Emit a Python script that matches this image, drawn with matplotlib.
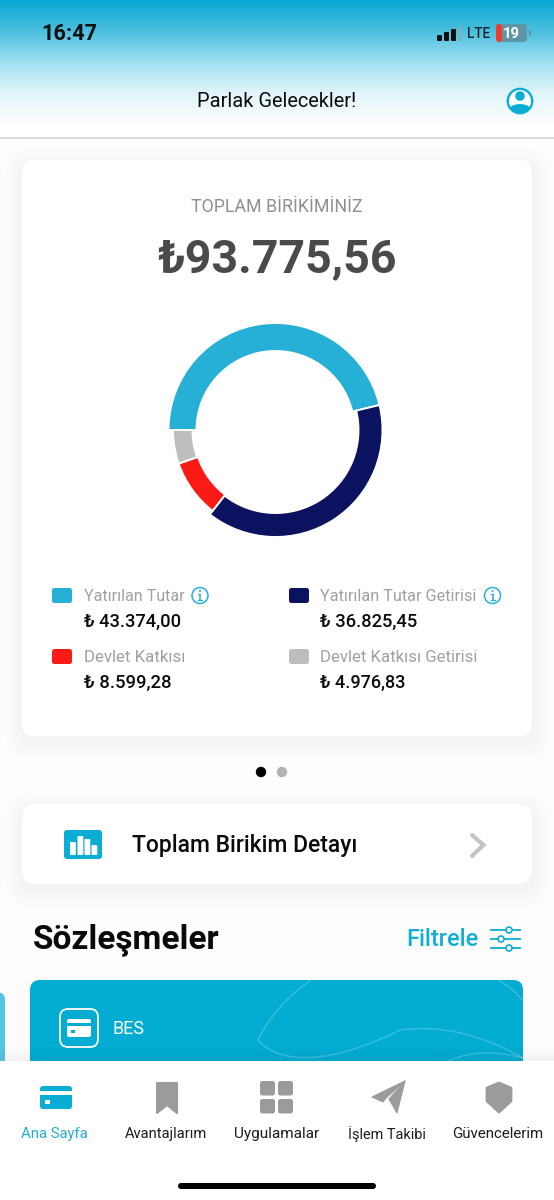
import numpy as np
import matplotlib
matplotlib.use("Agg")
import matplotlib.pyplot as plt
from matplotlib.patches import FancyBboxPatch, Circle, Polygon, PathPatch, Rectangle, Ellipse
from matplotlib.path import Path
from matplotlib.colors import LinearSegmentedColormap

plt.rcParams['font.family'] = ['Roboto', 'DejaVu Sans']

# data
categories = ["Yatırılan Tutar", "Yatırılan Tutar Getirisi", "Devlet Katkısı", "Devlet Katkısı Getirisi"]
values = [43374.00, 36825.45, 8599.28, 4976.83]
value_labels = ["₺ 43.374,00", "₺ 36.825,45", "₺ 8.599,28", "₺ 4.976,83"]
colors = ["#26b0d6", "#0b1260", "#fb1a16", "#bdbdbd"]
total_label = "₺93.775,56"
title_label = "TOPLAM BİRİKİMİNİZ"
tab_labels = ["Ana Sayfa", "Avantajlarım", "Uygulamalar", "İşlem Takibi", "Güvencelerim"]

W, H = 554, 1200
TEAL = "#0aaed4"
fig = plt.figure(figsize=(W / 100, H / 100), dpi=100, facecolor="#fdfdfd")
ax = fig.add_axes([0, 0, 1, 1])
ax.set_axis_off()

# header gradient
cmap = LinearSegmentedColormap.from_list("hdr", [(0, "#08a8d2"), (0.25, "#4cbfe0"), (0.5, "#a2e0f1"), (0.75, "#e2f5fa"), (1, "#ffffff")])
ax.imshow(np.linspace(0, 1, 256)[:, None], extent=[0, W, 125, 0], cmap=cmap, aspect="auto", zorder=0)
ax.add_patch(Rectangle((0, 125), W, 12, fc="white", ec="none", zorder=0))
ax.set_xlim(0, W)
ax.set_ylim(H, 0)
ax.plot([0, W], [137.5, 137.5], color="#d2d2d2", lw=1.1, zorder=1)


def box(x0, y0, x1, y1, r, fc, z=2, **kw):
    p = FancyBboxPatch((x0, y0), x1 - x0, y1 - y0, boxstyle=f"round,pad=0,rounding_size={r}", fc=fc, ec=kw.pop("ec", "none"), zorder=z, **kw)
    ax.add_patch(p)
    return p


def shadow(x0, y0, x1, y1, r, dy=6):
    for g in range(18, 0, -2):
        box(x0 - g, y0 - g + dy, x1 + g, y1 + g + dy, r + g, "#000000", z=1.5, alpha=0.004)


def label(x0, x1, yc, s, color, weight="normal", z=5):
    """Text whose size is fitted to the pixel span it has in the reference."""
    t = ax.text(x0, yc + 1, s, color=color, fontweight=weight, va="center", ha="left", fontsize=10, zorder=z)
    ext = t.get_window_extent(fig.canvas.get_renderer())
    t.set_fontsize(10 * (x1 - x0) / ext.width)
    return t


# cards
shadow(22, 160, 532, 736, 12)
box(22, 160, 532, 736, 12, "white")
shadow(22, 804, 532, 884, 14)
box(22, 804, 532, 884, 14, "white")

# status bar
label(41, 97, 33, "16:47", "#101010", "bold")
for x, top in zip([437, 444, 451], [35, 32, 29]):
    box(x, top, x + 5, 41, 1, "#101010", z=3)
box(458, 26, 461.5, 41, 1, "#6fb7c9", z=3)
label(467, 490, 33.5, "LTE", "#14262c", "medium")
box(496, 24, 527, 42, 4, "#5f95a5", z=3)
box(496, 24, 502, 42, 3, "#f03a2c", z=3.2)
label(503, 520, 33, "19", "white", "bold")
ax.add_patch(Rectangle((529, 30), 1.5, 6, fc="#5f95a5", ec="none", zorder=3))

# nav
label(197, 356, 100.5, "Parlak Gelecekler!", "#0c0c0c")
ring = Circle((520, 101), 12.2, fc="white", ec=TEAL, lw=1.7, zorder=3)
ax.add_patch(ring)
ax.add_patch(Circle((520, 96), 4.8, fc=TEAL, ec="none", zorder=4))
body = Ellipse((520, 110), 22, 12, fc=TEAL, ec="none", zorder=4)
ax.add_patch(body)
body.set_clip_path(ring)

# heading
label(191, 361, 206, title_label, "#8f8f93")
label(157, 396, 258.5, total_label, "#4a4a4a", "bold")

# donut
dax = fig.add_axes([(275.5 - 115) / W, 1 - (430 + 115) / H, 230 / W, 230 / H])
wedges, _ = dax.pie(values, colors=colors, startangle=180, counterclock=False, radius=106,
                    wedgeprops=dict(edgecolor="white", linewidth=1.4))
dax.set_xlim(-115, 115)
dax.set_ylim(-115, 115)
for w, outer, inner in zip(wedges, [107, 107, 102.5, 102.5], [79, 83, 82, 83]):
    w.set_radius(outer)
    w.set_width(outer - inner)

# legend
lx = [52, 289, 52, 289]
ly = [595.5, 595.5, 656.5, 656.5]
lab_x1 = [184, 477, 185, 478]
val_x1 = [180, 418, 171, 406]
for i in range(4):
    box(lx[i], ly[i] - 7.5, lx[i] + 20, ly[i] + 7.5, 2.5, colors[i])
    tx = lx[i] + 31.5
    label(tx, lab_x1[i], ly[i], categories[i], "#a0a0a4")
    label(tx, val_x1[i], ly[i] + 25.5, value_labels[i], "#0b0b0b", "medium")
for cx in [200, 492.5]:
    ax.add_patch(Circle((cx, 595.5), 8, fc="white", ec="#27b1d8", lw=1.1, zorder=3))
    ax.plot([cx, cx], [594, 600], color="#27b1d8", lw=1.1, zorder=4, solid_capstyle="butt")
    ax.plot([cx - 2, cx + 2], [600, 600], color="#27b1d8", lw=0.9, zorder=4)
    ax.plot([cx - 2, cx], [594, 594], color="#27b1d8", lw=0.9, zorder=4)
    ax.add_patch(Circle((cx, 591), 1, fc="#27b1d8", ec="none", zorder=4))

# pager
ax.add_patch(Circle((261, 772), 5.2, fc="black", ec="none", zorder=3))
ax.add_patch(Circle((282, 772), 5.2, fc="#b2b2b2", ec="none", zorder=3))

# detail row
box(64, 830, 102, 859, 3, TEAL, z=3)
for x, top in zip([70, 77.5, 84.5, 91.5], [842, 836, 839, 845]):
    box(x, top, x + 5.8, 855, 1, "white", z=4)
label(132, 358, 844.5, "Toplam Birikim Detayı", "#0a0a0a", "medium")
ax.plot([472, 483.5, 472], [835, 845, 856], color="#c4c4c4", lw=3, zorder=4, solid_capstyle="round", solid_joinstyle="miter")

# contracts heading
label(33, 219, 939, "Sözleşmeler", "#0a0a0a", "bold")
label(406, 478, 939, "Filtrele", "#12aed5", "medium")
for y, cx in zip([930, 939, 948], [509, 501, 509]):
    ax.plot([491, 520], [y, y], color=TEAL, lw=1.3, zorder=3)
    ax.add_patch(Circle((cx, y), 3, fc="white", ec=TEAL, lw=1.2, zorder=4))

# contract cards
box(-20, 992, 5, 1080, 8, "#55c5e2", z=2)
card = box(30, 980, 523, 1090, 10, "#02acd3", z=2)
for verts, codes in [
    ([(311, 980), (275, 1005), (258, 1040)], [1, 3, 3]),
    ([(258, 1040), (280, 1065), (330, 1065), (400, 1030), (460, 1022), (523, 1058)], [1, 4, 4, 4, 3, 3]),
    ([(440, 1065), (475, 1045), (523, 1058)], [1, 3, 3]),
    ([(498, 980), (512, 987), (523, 1001)], [1, 3, 3]),
]:
    p = PathPatch(Path(verts, codes), fc="none", ec="white", lw=1.2, alpha=0.2, zorder=2.5)
    ax.add_patch(p)
    p.set_clip_path(card)
box(60, 1009, 98, 1047, 8, "none", z=3, ec="white", lw=1.3)
box(67, 1019, 91, 1037, 2, "white", z=3)
ax.add_patch(Rectangle((67, 1023), 24, 3, fc="#02acd3", ec="none", zorder=4))
ax.add_patch(Rectangle((71, 1030), 3.5, 3, fc="#02acd3", ec="none", zorder=4))
label(112, 144, 1027.5, "BES", "white")

# tab bar
for g in range(8):
    ax.add_patch(Rectangle((0, 1061 - g * 2), W, 2, fc="black", alpha=0.012 * (8 - g) / 2, ec="none", zorder=5.5))
ax.add_patch(Rectangle((0, 1061), W, 139, fc="#ffffff", ec="none", zorder=6))
GREY = "#9b9b9b"
label_x = [(21, 88), (125, 207), (234, 319), (348, 426), (452, 544)]
for i, (s, (a, b)) in enumerate(zip(tab_labels, label_x)):
    label(a, b, 1133, s, "#22aed3" if i == 0 else "#1c1c1c", z=8)

box(40, 1086, 72, 1109, 3, TEAL, z=7)
ax.add_patch(Rectangle((40, 1091), 32, 3.5, fc="white", ec="none", zorder=7.5))
ax.add_patch(Rectangle((45, 1100), 5, 4, fc="white", ec="none", zorder=7.5))
ax.add_patch(Polygon([(157, 1083), (177, 1083), (177, 1113), (167, 1105), (157, 1113)], fc=GREY, ec=GREY, lw=1.5, joinstyle="round", zorder=7))
for x, y in [(260, 1081), (278, 1081), (260, 1099), (278, 1099)]:
    box(x, y, x + 15, y + 14.5, 2.5, GREY, z=7)
ax.add_patch(Polygon([(372, 1097), (405, 1081), (386, 1098), (383, 1102)], fc=GREY, ec=GREY, lw=0.8, joinstyle="round", zorder=7))
ax.add_patch(Polygon([(405, 1081), (389, 1099), (397, 1113)], fc=GREY, ec=GREY, lw=0.8, joinstyle="round", zorder=7))
ax.add_patch(Polygon([(499, 1083), (511, 1088), (511, 1101), (499, 1112), (487, 1101), (487, 1088)], fc=GREY, ec=GREY, lw=2, joinstyle="round", zorder=7))
box(178, 1183, 376, 1189, 3, "black", z=7)

fig.savefig("out.png", dpi=100, facecolor=fig.get_facecolor())
